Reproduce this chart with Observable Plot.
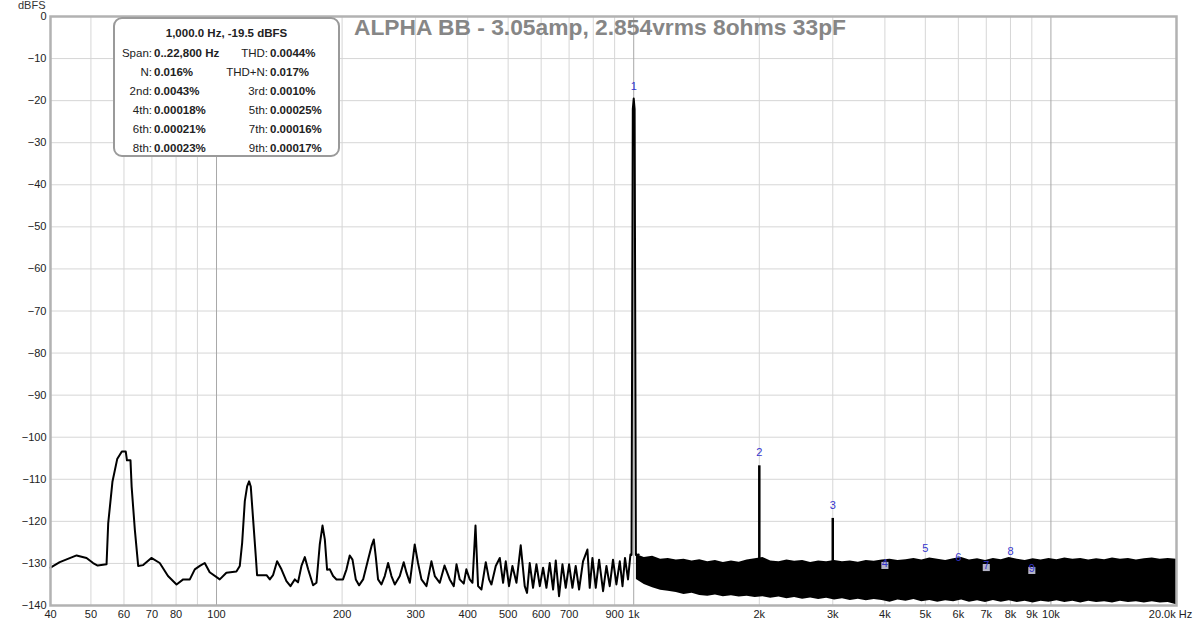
<!DOCTYPE html>
<html><head><meta charset="utf-8">
<script src="https://cdn.jsdelivr.net/npm/d3@7"></script>
<script src="https://cdn.jsdelivr.net/npm/@observablehq/plot@0.6"></script>
<style>
body{margin:0;background:#fff;}
#wrap{position:relative;width:1200px;height:626px;font-family:"Liberation Sans",Arial,sans-serif;overflow:hidden;}
#wrap svg{position:absolute;left:0;top:0;}
#title{position:absolute;left:0;width:1200px;top:13px;line-height:28px;text-align:center;font-size:22.8px;font-weight:bold;color:#868686;}
#unit{position:absolute;left:18px;top:-1px;font-size:11px;color:#333;}
#box{position:absolute;left:113px;top:17px;width:227px;height:140px;box-sizing:border-box;border:2px solid #9a9a9a;border-radius:9px;background:#fff;}
.t{position:absolute;font-size:11.5px;line-height:14px;color:#222;white-space:nowrap;}
.r{text-align:right;}
</style></head>
<body>
<div id="wrap"></div>
<script>
// ---- data ----
const chartTitle = "ALPHA BB - 3.05amp, 2.854vrms 8ohms 33pF";
const yUnit = "dBFS";
const infoHeader = "1,000.0 Hz, -19.5 dBFS";
const infoLeftLabels = ["Span:", "N:", "2nd:", "4th:", "6th:", "8th:"];
const infoLeftValues = ["0..22,800 Hz", "0.016%", "0.0043%", "0.00018%", "0.00021%", "0.00023%"];
const infoRightLabels = ["THD:", "THD+N:", "3rd:", "5th:", "7th:", "9th:"];
const infoRightValues = ["0.0044%", "0.017%", "0.0010%", "0.00025%", "0.00016%", "0.00017%"];

const lineFreq = [40, 42.1, 46.2, 48.8, 50.6, 51.9, 54.5, 55.0, 56.3, 57.8,
  59.3, 60.6, 61.0, 62.2, 62.6, 63.7, 64.9, 66.7, 69.8, 73.1,
  76.5, 80.2, 83.2, 86.3, 88.7, 91.2, 93.7, 96.3, 101.8, 105.6,
  111.6, 113.7, 115.2, 116.9, 118.4, 119.7, 120.8, 122.4, 124.2, 125.1,
  131.8, 134.2, 136.6, 139.7, 143.1, 147.1, 150.4, 154.0, 156.8, 159.8,
  162.8, 165.8, 170.4, 173.6, 176.8, 179.5, 181.8, 184.1, 186.9, 190.3,
  193.9, 201.0, 204.9, 208.6, 211.8, 215.7, 219.6, 224.6, 230.8, 235.2,
  238.2, 240.8, 243.9, 248.5, 253.1, 257.8, 262.6, 267.5, 275.0, 281.0,
  285.3, 290.6, 298.6, 304.1, 309.9, 318.6, 327.4, 333.6, 342.9, 352.0,
  362.3, 370.4, 376.0, 382.8, 391.4, 397.0, 404.5, 410.7, 417.6, 423.6,
  431.5, 442, 450, 456, 467, 477.5, 486.3, 493.5, 502.5, 512,
  523.5, 536, 548, 555, 563.3, 573.7, 584.5, 595.5, 606.4, 617.7,
  629, 640.9, 650.4, 662.3, 674.8, 687.2, 700, 713, 726, 739.7,
  756, 774.5, 784.5, 796.3, 811, 826, 844.4, 860.3, 876, 892,
  908.9, 926, 940, 953, 969, 982, 988, 995, 1000, 1005,
  1012, 1028];
const lineDb = [-131.0, -129.7, -128.1, -128.7, -129.9, -130.5, -130.2, -120.5, -110.6, -105.2,
  -103.4, -103.4, -105.5, -105.5, -111.8, -121.9, -130.6, -130.4, -128.7, -129.9,
  -133.0, -135.0, -133.8, -133.8, -131.4, -130.6, -129.9, -132.1, -133.8, -132.2,
  -131.9, -130.6, -125.1, -115.2, -111.7, -110.5, -111.7, -119.6, -128.3, -132.8,
  -132.8, -133.8, -132.8, -129.5, -131.4, -134.2, -135.4, -133.8, -134.5, -130.6,
  -128.5, -131.4, -135.2, -134.6, -125.5, -121.0, -124.3, -131.5, -131.4, -133.0,
  -133.8, -133.8, -131.4, -128.1, -129.1, -133.8, -135.2, -133.8, -129.1, -125.9,
  -124.3, -128.3, -133.8, -135.0, -133.0, -129.9, -133.0, -135.0, -133.0, -129.7,
  -132.2, -134.6, -125.5, -129.9, -133.8, -135.4, -129.5, -133.0, -134.6, -130.5,
  -133.8, -135.4, -130.2, -133.8, -134.8, -131.4, -133.8, -134.6, -121.0, -135.4,
  -136.2, -129.7, -133.8, -135.0, -130.6, -128.7, -134.6, -129.5, -135.4, -130.6,
  -134.6, -125.7, -135.4, -137.0, -129.9, -135.8, -130.2, -135.4, -131.0, -135.8,
  -129.9, -136.2, -129.3, -137.8, -130.2, -135.8, -130.2, -135.8, -130.6, -136.2,
  -129.5, -126.7, -135.8, -128.7, -135.8, -129.1, -136.6, -130.6, -135.4, -129.1,
  -135.0, -129.5, -135.4, -128.7, -133.8, -127.9, -128.0, -22.0, -19.5, -22.0,
  -128.0, -127.9];

const bandFreq = [1015, 1060, 1110, 1160, 1210, 1265, 1320, 1380, 1440, 1505,
  1570, 1640, 1715, 1790, 1870, 1955, 2040, 2130, 2230, 2330,
  2430, 2540, 2655, 2775, 2900, 3030, 3165, 3305, 3455, 3610,
  3770, 3940, 4115, 4300, 4495, 4695, 4905, 5125, 5355, 5595,
  5845, 6110, 6380, 6670, 6970, 7280, 7605, 7945, 8305, 8675,
  9065, 9470, 9895, 10340, 10800, 11290, 11790, 12320, 12870, 13450,
  14050, 14680, 15340, 16030, 16750, 17500, 18280, 19100, 20000];
const bandTop = [-127.9, -128.6, -128.3, -129.0, -128.8, -129.2, -129.0, -129.4, -129.1, -129.6,
  -129.3, -129.8, -129.4, -129.7, -129.2, -128.9, -128.6, -129.4, -129.6, -129.2,
  -129.5, -129.3, -129.8, -129.4, -129.6, -129.3, -129.6, -129.4, -129.7, -129.3,
  -129.5, -129.2, -129.0, -129.3, -129.1, -128.8, -129.2, -128.7, -129.0, -129.3,
  -128.9, -128.6, -129.2, -128.9, -129.3, -128.8, -129.1, -128.6, -129.0, -129.3,
  -128.9, -129.2, -128.8, -129.1, -128.7, -129.0, -128.8, -129.2, -128.9, -129.1,
  -128.7, -129.0, -128.8, -129.2, -128.9, -128.7, -129.0, -128.8, -129.0];
const bandBottom = [-133.8, -135.0, -135.8, -136.4, -136.6, -136.9, -137.4, -137.1, -137.6, -137.8,
  -137.5, -137.9, -137.7, -138.0, -137.8, -138.1, -137.9, -138.3, -138.0, -138.4,
  -138.1, -138.5, -138.2, -138.6, -138.3, -138.7, -138.4, -138.8, -138.5, -138.9,
  -138.6, -138.8, -139.2, -138.7, -139.0, -138.6, -139.1, -138.8, -139.2, -138.9,
  -139.1, -138.7, -139.2, -138.9, -139.3, -138.8, -139.2, -138.9, -139.3, -139.0,
  -139.4, -139.0, -139.2, -138.9, -139.3, -139.0, -139.4, -139.0, -139.3, -139.1,
  -139.4, -139.0, -139.3, -139.1, -139.4, -139.1, -139.4, -139.3, -139.8];

const spikeFreq = [2000, 3000];
const spikeTopDb = [-106.8, -119.3];
const spikeBaseDb = [-130.0, -130.0];

const markerLabels = ["1", "2", "3", "4", "5", "6", "7", "8", "9"];
const markerFreq = [1000, 2000, 3000, 4000, 5000, 6000, 7000, 8000, 9000];
const markerDb = [-16.6, -103.7, -116.3, -130.0, -126.5, -128.6, -130.5, -127.2, -131.2];
const markerBoxed = [false, false, false, true, false, false, true, false, true];

const yTicks = [0, -10, -20, -30, -40, -50, -60, -70, -80, -90, -100, -110, -120, -130, -140];
const xTickValues = [40, 50, 60, 70, 80, 100, 200, 300, 400, 500, 600, 700, 900, 1000, 2000, 3000, 4000, 5000, 6000, 7000, 8000, 9000, 10000];
const xTickLabels = ["40", "50", "60", "70", "80", "100", "200", "300", "400", "500", "600", "700", "900", "1k", "2k", "3k", "4k", "5k", "6k", "7k", "8k", "9k", "10k"];
const xEndLabel = "20.0k Hz";
const xEndFreq = 20000;
const gridMinorFreq = [50, 60, 70, 80, 90, 200, 300, 400, 500, 600, 700, 800, 900, 2000, 3000, 4000, 5000, 6000, 7000, 8000, 9000];
const gridDecadeFreq = [100, 1000, 10000];

// ---- build ----
const lineRows = lineFreq.map((f, i) => ({f, db: lineDb[i]}));
const bandRows = bandFreq.map((f, i) => ({f, hi: bandTop[i], lo: bandBottom[i]}));
const spikeRows = spikeFreq.map((f, i) => ({f, top: spikeTopDb[i], base: spikeBaseDb[i]}));
const markerRows = markerFreq.map((f, i) => ({f, db: markerDb[i], label: markerLabels[i], boxed: markerBoxed[i]}));
const xTickRows = xTickValues.map((v, i) => ({v, label: xTickLabels[i]}));

const chart = Plot.plot({
  width: 1200, height: 626,
  marginLeft: 50, marginRight: 24, marginTop: 16, marginBottom: 21,
  x: {type: "log", domain: [40, 20000], axis: null},
  y: {domain: [-140, 0]},
  style: {fontFamily: "Liberation Sans, Arial, sans-serif", fontSize: "11px", background: "#fff", color: "#222"},
  marks: [
    Plot.gridY(yTicks, {stroke: "#d6d6d6", strokeOpacity: 1}),
    Plot.gridX(gridMinorFreq, {stroke: "#d6d6d6", strokeOpacity: 1}),
    Plot.gridX(gridDecadeFreq, {stroke: "#a8a8a8", strokeOpacity: 1}),
    Plot.areaY(bandRows, {x: "f", y1: "lo", y2: "hi", fill: "#000"}),
    Plot.line(lineRows, {x: "f", y: "db", stroke: "#000", strokeWidth: 2}),
    Plot.ruleX(spikeRows, {x: "f", y1: "base", y2: "top", stroke: "#000", strokeWidth: 2.5}),
    Plot.dot(markerRows.filter(d => d.boxed), {x: "f", y: "db", symbol: "square", r: 4, fill: "#b4b4c6", dy: 2}),
    Plot.text(markerRows, {x: "f", y: "db", text: "label", fill: "#3535cc", fontSize: 11}),
    Plot.axisY(yTicks, {tickSize: 0, tickPadding: 4, label: null, fill: "#222"}),
    Plot.text(xTickRows, {x: "v", text: "label", frameAnchor: "bottom", dy: 12, fill: "#222"}),
    Plot.text([xEndFreq], {x: d => d, frameAnchor: "bottom", dy: 12, dx: -6, text: () => xEndLabel, fill: "#222"}),
    Plot.frame({stroke: "#b2b2b2", strokeWidth: 2.5})
  ]
});

const wrap = document.getElementById("wrap");
wrap.appendChild(chart);

const unit = document.createElement("div");
unit.id = "unit"; unit.textContent = yUnit; wrap.appendChild(unit);

const title = document.createElement("div");
title.id = "title"; title.textContent = chartTitle; wrap.appendChild(title);

const box = document.createElement("div");
box.id = "box"; wrap.appendChild(box);
function addText(parent, html, left, top, cls, width) {
  const el = document.createElement("div");
  el.className = "t" + (cls ? " " + cls : "");
  el.innerHTML = html;
  el.style.left = left + "px"; el.style.top = top + "px";
  if (width) el.style.width = width + "px";
  parent.appendChild(el);
  return el;
}
// header and rows (box-relative coords inside a 2px border)
addText(box, "<b>" + infoHeader + "</b>", 0, 7, "", 223).style.textAlign = "center";
infoLeftLabels.forEach((lab, i) => {
  const top = 26.5 + i * 19;
  addText(box, lab, 0, top, "r", 37);
  addText(box, "<b>" + infoLeftValues[i] + "</b>", 39, top);
  addText(box, infoRightLabels[i], 60, top, "r", 93);
  addText(box, "<b>" + infoRightValues[i] + "</b>", 155, top);
});
</script>
</body></html>
